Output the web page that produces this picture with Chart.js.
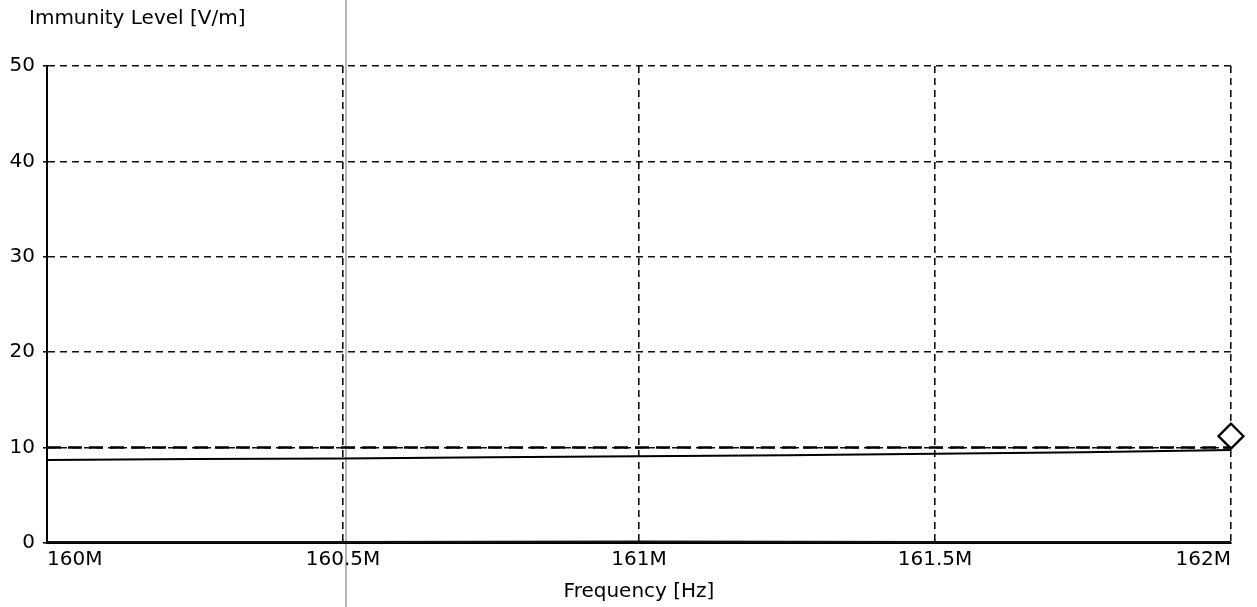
<!DOCTYPE html>
<html>
<head>
<meta charset="utf-8">
<script src="https://cdn.jsdelivr.net/npm/chart.js@4.4.1/dist/chart.umd.min.js"></script>
<style>
  html, body { margin: 0; padding: 0; background: #fff; }
  #wrap { width: 1257px; height: 607px; position: relative; }
</style>
</head>
<body>
<div id="wrap"><canvas id="chart"></canvas></div>
<script>
// frequencies in MHz, levels in V/m
const xTicks = [160, 160.5, 161, 161.5, 162];
const yTicks = [0, 10, 20, 30, 40, 50];

const levelFreq = [160, 160, 160.25, 160.5, 160.75, 161, 161.25, 161.5, 161.75, 162];
const levelVals = [50, 8.7, 8.8, 8.85, 9.0, 9.1, 9.2, 9.35, 9.5, 9.75];

const limitFreq = [160, 162];
const limitVals = [10, 10];

const baseFreq = [160, 160.5, 161, 161.5, 162];
const baseVals = [0.1, 0.1, 0.15, 0.1, 0.1];

const markerFreq = [162];
const markerVals = [11.2];

const FONT = 'DejaVu Sans';

function toPoints(xs, ys) {
  return xs.map((x, i) => ({ x: x, y: ys[i] }));
}

// titulo del eje y arriba a la izquierda + linea gris del escaneo
const extras = {
  id: 'extras',
  beforeDraw(chart) {
    const ctx = chart.ctx;
    const x = chart.scales.x.getPixelForValue(160.505);
    ctx.save();
    ctx.strokeStyle = 'rgba(100,100,100,0.6)';
    ctx.lineWidth = 1.5;
    ctx.beginPath();
    ctx.moveTo(x, 0);
    ctx.lineTo(x, chart.height);
    ctx.stroke();
    ctx.restore();
  },
  afterDraw(chart) {
    const ctx = chart.ctx;
    ctx.save();
    ctx.font = '20px "' + FONT + '"';
    ctx.fillStyle = '#000';
    ctx.textBaseline = 'middle';
    ctx.textAlign = 'left';
    ctx.fillText('Immunity Level [V/m]', 29, 19);
    ctx.restore();
  }
};

new Chart(document.getElementById('chart'), {
  type: 'line',
  data: {
    datasets: [
      {
        data: toPoints(limitFreq, limitVals),
        borderColor: '#000',
        borderWidth: 2.5,
        borderDash: [14, 7],
        pointRadius: 0,
        tension: 0
      },
      {
        data: toPoints(levelFreq, levelVals),
        borderColor: '#000',
        borderWidth: 2,
        pointRadius: 0,
        tension: 0
      },
      {
        data: toPoints(baseFreq, baseVals),
        borderColor: '#111',
        borderWidth: 2,
        pointRadius: 0,
        tension: 0
      },
      {
        data: toPoints(markerFreq, markerVals),
        showLine: false,
        pointStyle: 'rectRot',
        pointRadius: 12.5,
        pointBorderWidth: 2.2,
        pointBorderColor: '#000',
        pointBackgroundColor: '#fff',
        clip: false
      }
    ]
  },
  options: {
    responsive: true,
    maintainAspectRatio: false,
    animation: false,
    layout: { padding: { top: 66, right: 26, left: 0, bottom: 0 } },
    plugins: {
      legend: { display: false },
      tooltip: { enabled: false }
    },
    scales: {
      x: {
        type: 'linear',
        min: 160,
        max: 162,
        afterBuildTicks: (scale) => { scale.ticks = xTicks.map(v => ({ value: v })); },
        afterFit: (scale) => { scale.height = 64; },
        ticks: {
          align: 'inner',
          padding: 5,
          color: '#000',
          font: { family: FONT, size: 20 },
          maxRotation: 0,
          callback: (v) => v + 'M'
        },
        grid: { color: '#111', lineWidth: 1.6, drawTicks: false },
        border: { display: true, color: '#000', width: 2, dash: [7, 5] },
        title: {
          display: true,
          text: 'Frequency [Hz]',
          color: '#000',
          font: { family: FONT, size: 20 },
          padding: { top: 2, bottom: 3 }
        }
      },
      y: {
        min: 0,
        max: 50,
        afterBuildTicks: (scale) => { scale.ticks = yTicks.map(v => ({ value: v })); },
        afterFit: (scale) => { scale.width = 47; },
        ticks: {
          padding: 8,
          color: '#000',
          font: { family: FONT, size: 20 }
        },
        grid: { color: '#111', lineWidth: 1.6, tickLength: 4 },
        border: { display: true, color: '#000', width: 2, dash: [7, 5] }
      }
    }
  },
  plugins: [extras]
});
</script>
</body>
</html>
